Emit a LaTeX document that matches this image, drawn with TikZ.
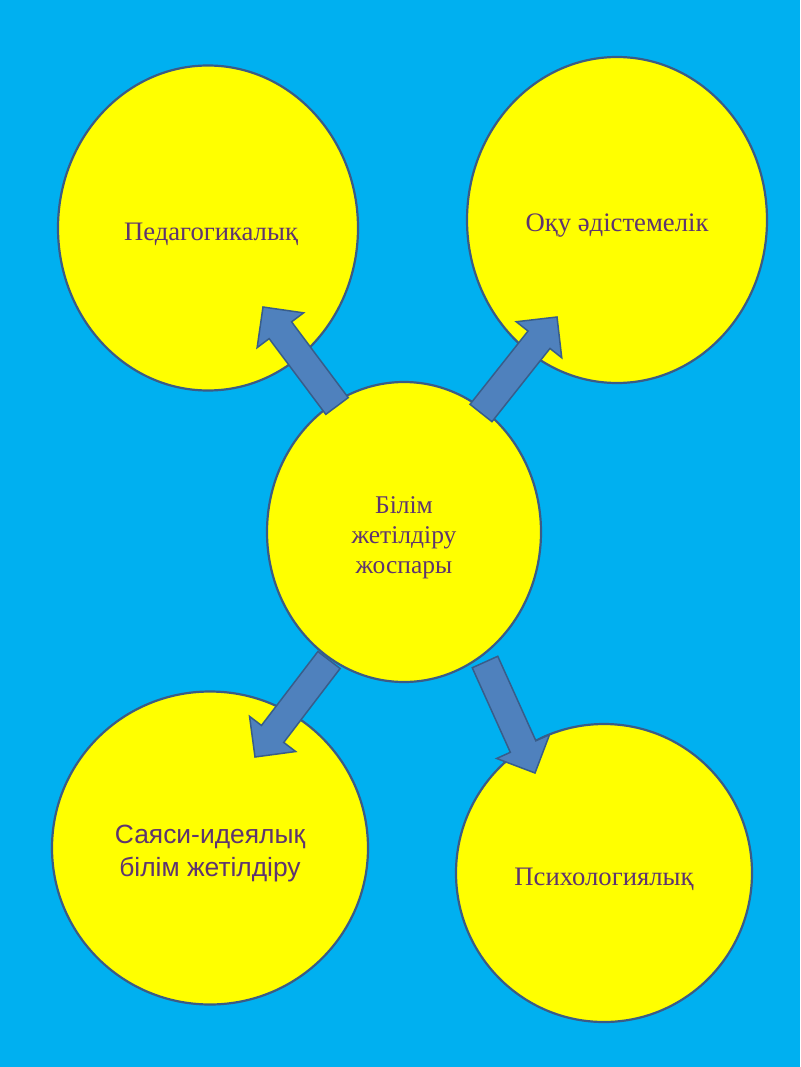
\documentclass[tikz,border=0pt]{standalone}
\usepackage{fontspec}
\setmainfont{Liberation Serif}
\newfontfamily\sansf{Liberation Sans}
\usetikzlibrary{shapes.geometric,calc}
\definecolor{bg}{HTML}{00B0F0}
\definecolor{ylw}{HTML}{FFFF00}
\definecolor{rim}{HTML}{3B5B86}
\definecolor{arrfill}{HTML}{4F81BD}
\definecolor{arrline}{HTML}{385D8A}
\definecolor{txt}{HTML}{5E3470}
\newcommand\blkarrow[3]{%
  \coordinate (#3h) at ($(#2)!29pt!(#1)$);
  \draw[blockarrow] ($(#1)!14pt!90:(#2)$) -- ($(#3h)!14pt!-90:(#1)$) -- ($(#3h)!29pt!-90:(#1)$) -- (#2) -- ($(#3h)!29pt!90:(#1)$) -- ($(#3h)!14pt!90:(#1)$) -- ($(#1)!14pt!-90:(#2)$) -- cycle;}
\begin{document}
\begin{tikzpicture}[x=1pt,y=-1pt,
  bubble/.style={ellipse,draw=rim,line width=2.2pt,fill=ylw,inner sep=0pt},
  bubtext/.style={text=txt,align=center,inner sep=0pt,yshift=-6pt,font=\fontsize{26.7}{30}\selectfont},
  blockarrow/.style={fill=arrfill,draw=arrline,line width=1.5pt,line join=miter}]
\fill[bg] (0,0) rectangle (800,1067);
\useasboundingbox (0,0) rectangle (800,1067);
\node[bubble,minimum width=300pt,minimum height=325pt,
  label={[bubtext,name=pedt,xshift=3pt]center:Педагогикалық}] (ped) at (208,228) {};
\node[bubble,minimum width=300pt,minimum height=326pt,
  label={[bubtext,name=okut]center:Оқу әдістемелік}] (oku) at (617,220) {};
\node[bubble,minimum width=316pt,minimum height=313pt,
  label={[bubtext,name=sayasit,font=\sansf\fontsize{26.4}{33}\selectfont]center:Саяси-идеялық\\білім жетілдіру}] (sayasi) at (210,848) {};
\node[bubble,minimum width=296pt,minimum height=298pt,
  label={[bubtext,name=psit]center:Психологиялық}] (psi) at (604,873) {};
\node[bubble,minimum width=274pt,minimum height=300pt,
  label={[bubtext,name=bilimt,font=\fontsize{25.5}{30}\selectfont]center:Білім\\жетілдіру\\жоспары}] (bilim) at (404,532) {};
\coordinate (a1t) at (337,406); \coordinate (a1e) at (263,307);
\coordinate (a2t) at (481,413); \coordinate (a2e) at (557,317);
\coordinate (a3t) at (329,660); \coordinate (a3e) at (255,757);
\coordinate (a4t) at (485,662); \coordinate (a4e) at (535,773);
\blkarrow{a1t}{a1e}{a1}
\blkarrow{a2t}{a2e}{a2}
\blkarrow{a3t}{a3e}{a3}
\blkarrow{a4t}{a4e}{a4}
\end{tikzpicture}
\end{document}
